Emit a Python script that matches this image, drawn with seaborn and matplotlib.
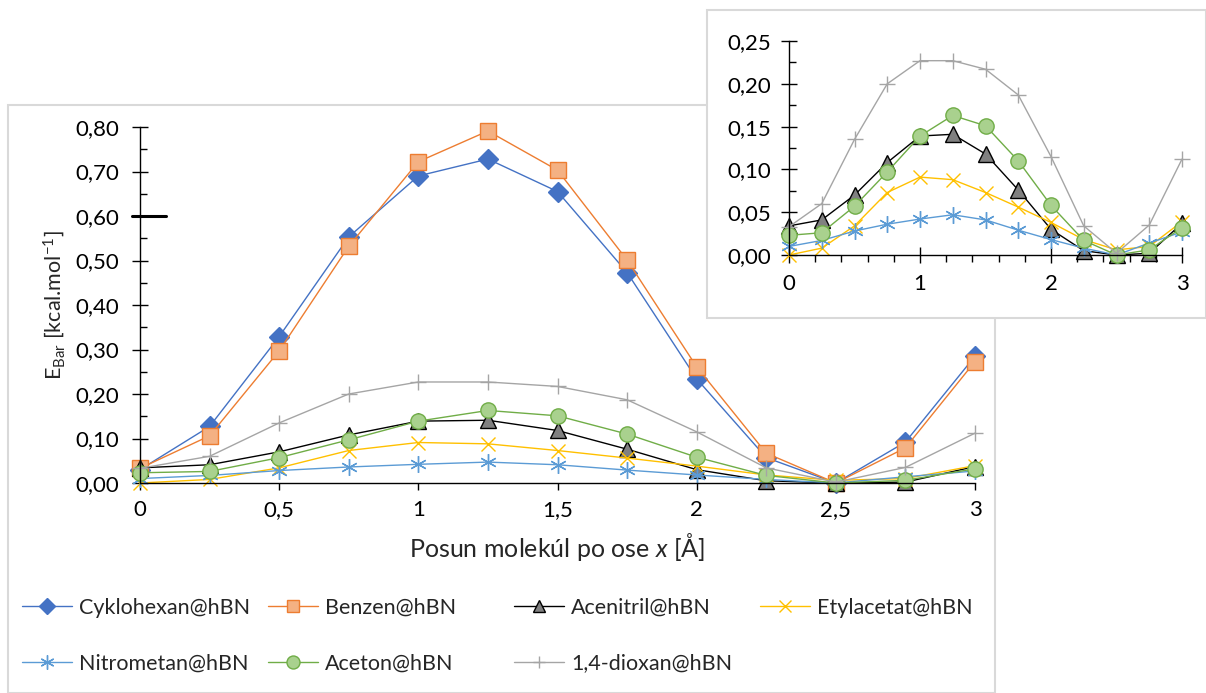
import numpy as np
import pandas as pd
import seaborn as sns
import matplotlib.pyplot as plt
from matplotlib.patches import Rectangle
from matplotlib.ticker import MultipleLocator, FuncFormatter

# shift of the molecules along x [A]
shift = [0, 0.25, 0.5, 0.75, 1, 1.25, 1.5, 1.75, 2, 2.25, 2.5, 2.75, 3]

cyklohexan = [0.030, 0.127, 0.329, 0.553, 0.690, 0.728, 0.655, 0.473, 0.234, 0.057, 0.000, 0.092, 0.285]
benzen = [0.033, 0.106, 0.297, 0.532, 0.722, 0.791, 0.703, 0.501, 0.261, 0.067, 0.000, 0.079, 0.273]
acenitril = [0.034, 0.041, 0.070, 0.108, 0.139, 0.141, 0.118, 0.076, 0.030, 0.005, 0.000, 0.002, 0.037]
etylacetat = [0.000, 0.008, 0.034, 0.073, 0.091, 0.088, 0.073, 0.056, 0.038, 0.018, 0.006, 0.010, 0.039]
nitrometan = [0.010, 0.017, 0.028, 0.036, 0.042, 0.047, 0.041, 0.029, 0.018, 0.008, 0.000, 0.014, 0.027]
aceton = [0.023, 0.026, 0.057, 0.097, 0.139, 0.163, 0.151, 0.110, 0.058, 0.017, 0.000, 0.006, 0.032]
dioxan = [0.033, 0.060, 0.135, 0.200, 0.227, 0.227, 0.217, 0.187, 0.115, 0.034, 0.002, 0.035, 0.112]

labels = ['Cyklohexan@hBN', 'Benzen@hBN', 'Acenitril@hBN', 'Etylacetat@hBN',
          'Nitrometan@hBN', 'Aceton@hBN', '1,4-dioxan@hBN']
values = [cyklohexan, benzen, acenitril, etylacetat, nitrometan, aceton, dioxan]

# line colour, marker, face colour, marker size
STYLES = [
    ('#4472C4', 'D', '#4472C4', 10),
    ('#ED7D31', 's', '#F4B183', 11),
    ('#000000', '^', '#808080', 11),
    ('#FFC000', 'x', 'none', 10),
    ('#5B9BD5', (6, 2, 0), 'none', 12),
    ('#70AD47', 'o', '#A9D18E', 11),
    ('#A5A5A5', '+', 'none', 11),
]

df = pd.DataFrame({'shift': shift})
for name, vals in zip(labels, values):
    df[name] = vals

sns.set_style('ticks')
plt.rcParams['font.family'] = ['Lato', 'DejaVu Sans']
plt.rcParams['mathtext.fontset'] = 'custom'
plt.rcParams['mathtext.rm'] = 'Lato'
plt.rcParams['mathtext.it'] = 'Lato:italic'

W, H = 1206, 693
fig = plt.figure(figsize=(W / 100, H / 100), dpi=100)

comma = lambda fmt: FuncFormatter(lambda v, p: (fmt % v).replace('.', ','))
comma_x = FuncFormatter(lambda v, p: ('%g' % v).replace('.', ','))


def draw_series(ax, names):
    handles = []
    for name in names:
        i = labels.index(name)
        color, marker, face, ms = STYLES[i]
        sns.lineplot(data=df, x='shift', y=name, ax=ax, color=color, marker=marker,
                     markersize=ms, markerfacecolor=face if face != 'none' else color,
                     markeredgecolor=color, markeredgewidth=1.0, linewidth=1.0,
                     label=name, clip_on=False, legend=False)
        handles.append(ax.lines[-1])
    return handles


def style_axes(ax):
    for s in ['top', 'right']:
        ax.spines[s].set_visible(False)
    for s in ['left', 'bottom']:
        ax.spines[s].set_color('black')
        ax.spines[s].set_linewidth(1.0)
    ax.set_xlim(0, 3)


# outer chart frame
fig.add_artist(Rectangle((8 / W, 0), (995 - 8) / W, (693 - 105) / H, transform=fig.transFigure,
                         facecolor='white', edgecolor='#D9D9D9', lw=1.5, zorder=-1))

# main chart
ax = fig.add_axes([140 / W, 1 - 483 / H, (975 - 140) / W, (483 - 127) / H])
ax.set_facecolor('none')
handles = draw_series(ax, labels)
style_axes(ax)
ax.set_ylim(0, 0.8)
ax.yaxis.set_major_locator(MultipleLocator(0.1))
ax.yaxis.set_minor_locator(MultipleLocator(0.05))
ax.xaxis.set_major_locator(MultipleLocator(0.5))
ax.yaxis.set_major_formatter(comma('%.2f'))
ax.xaxis.set_major_formatter(comma_x)
ax.tick_params(axis='y', which='major', direction='inout', length=12, width=1, pad=9, labelsize=16, colors='black')
ax.tick_params(axis='y', which='minor', direction='in', length=5, width=1, colors='black')
ax.tick_params(axis='x', which='major', direction='out', length=5, width=1, pad=7, labelsize=16, colors='black')
ax.set_xlabel(r'Posun molekúl po ose $\mathit{x}$ [Å]', fontsize=18, labelpad=8)
ax.set_ylabel(r'$\mathregular{E_{Bar}}$ [kcal.mol$^{\mathregular{-1}}$]', fontsize=15.5, labelpad=6)
ax.axhline(0.6, xmin=-0.0096, xmax=0.031, color='black', lw=2.2, clip_on=False)

# inset frame
fig.add_artist(Rectangle((707 / W, 1 - 318 / H), (1206 - 707) / W, (318 - 10) / H, transform=fig.transFigure,
                         facecolor='white', edgecolor='#D9D9D9', lw=1.5, zorder=1))

ins = fig.add_axes([789 / W, 1 - 255 / H, (1182 - 789) / W, (255 - 41) / H], zorder=2)
ins.set_facecolor('none')
draw_series(ins, ['Acenitril@hBN', 'Etylacetat@hBN', 'Nitrometan@hBN', 'Aceton@hBN', '1,4-dioxan@hBN'])
style_axes(ins)
ins.set_ylim(0, 0.25)
ins.set_xlabel('')
ins.set_ylabel('')
ins.yaxis.set_major_locator(MultipleLocator(0.05))
ins.yaxis.set_minor_locator(MultipleLocator(0.025))
ins.xaxis.set_major_locator(MultipleLocator(1))
ins.xaxis.set_minor_locator(MultipleLocator(0.2))
ins.yaxis.set_major_formatter(comma('%.2f'))
ins.tick_params(axis='y', which='major', direction='inout', length=12, width=1, pad=7, labelsize=16, colors='black')
ins.tick_params(axis='y', which='minor', direction='in', length=5, width=1, colors='black')
ins.tick_params(axis='x', which='major', direction='inout', length=12, width=1, pad=8, labelsize=16, colors='black')
ins.tick_params(axis='x', which='minor', direction='out', length=5, width=1, colors='black')

# legend, one block per column like the Excel layout
col_x = [22, 268, 514, 760]
cols = [[0, 4], [1, 5], [2, 6], [3]]
for cx, idx in zip(col_x, cols):
    fig.legend([handles[i] for i in idx], [labels[i] for i in idx], loc='upper left',
               bbox_to_anchor=(cx / W, 1 - 598 / H), frameon=False, fontsize=15.5,
               borderpad=0, borderaxespad=0, handlelength=2.32, handletextpad=0.32,
               labelspacing=1.65, numpoints=1, markerscale=0.85)

fig.savefig('out.png', dpi=100)
